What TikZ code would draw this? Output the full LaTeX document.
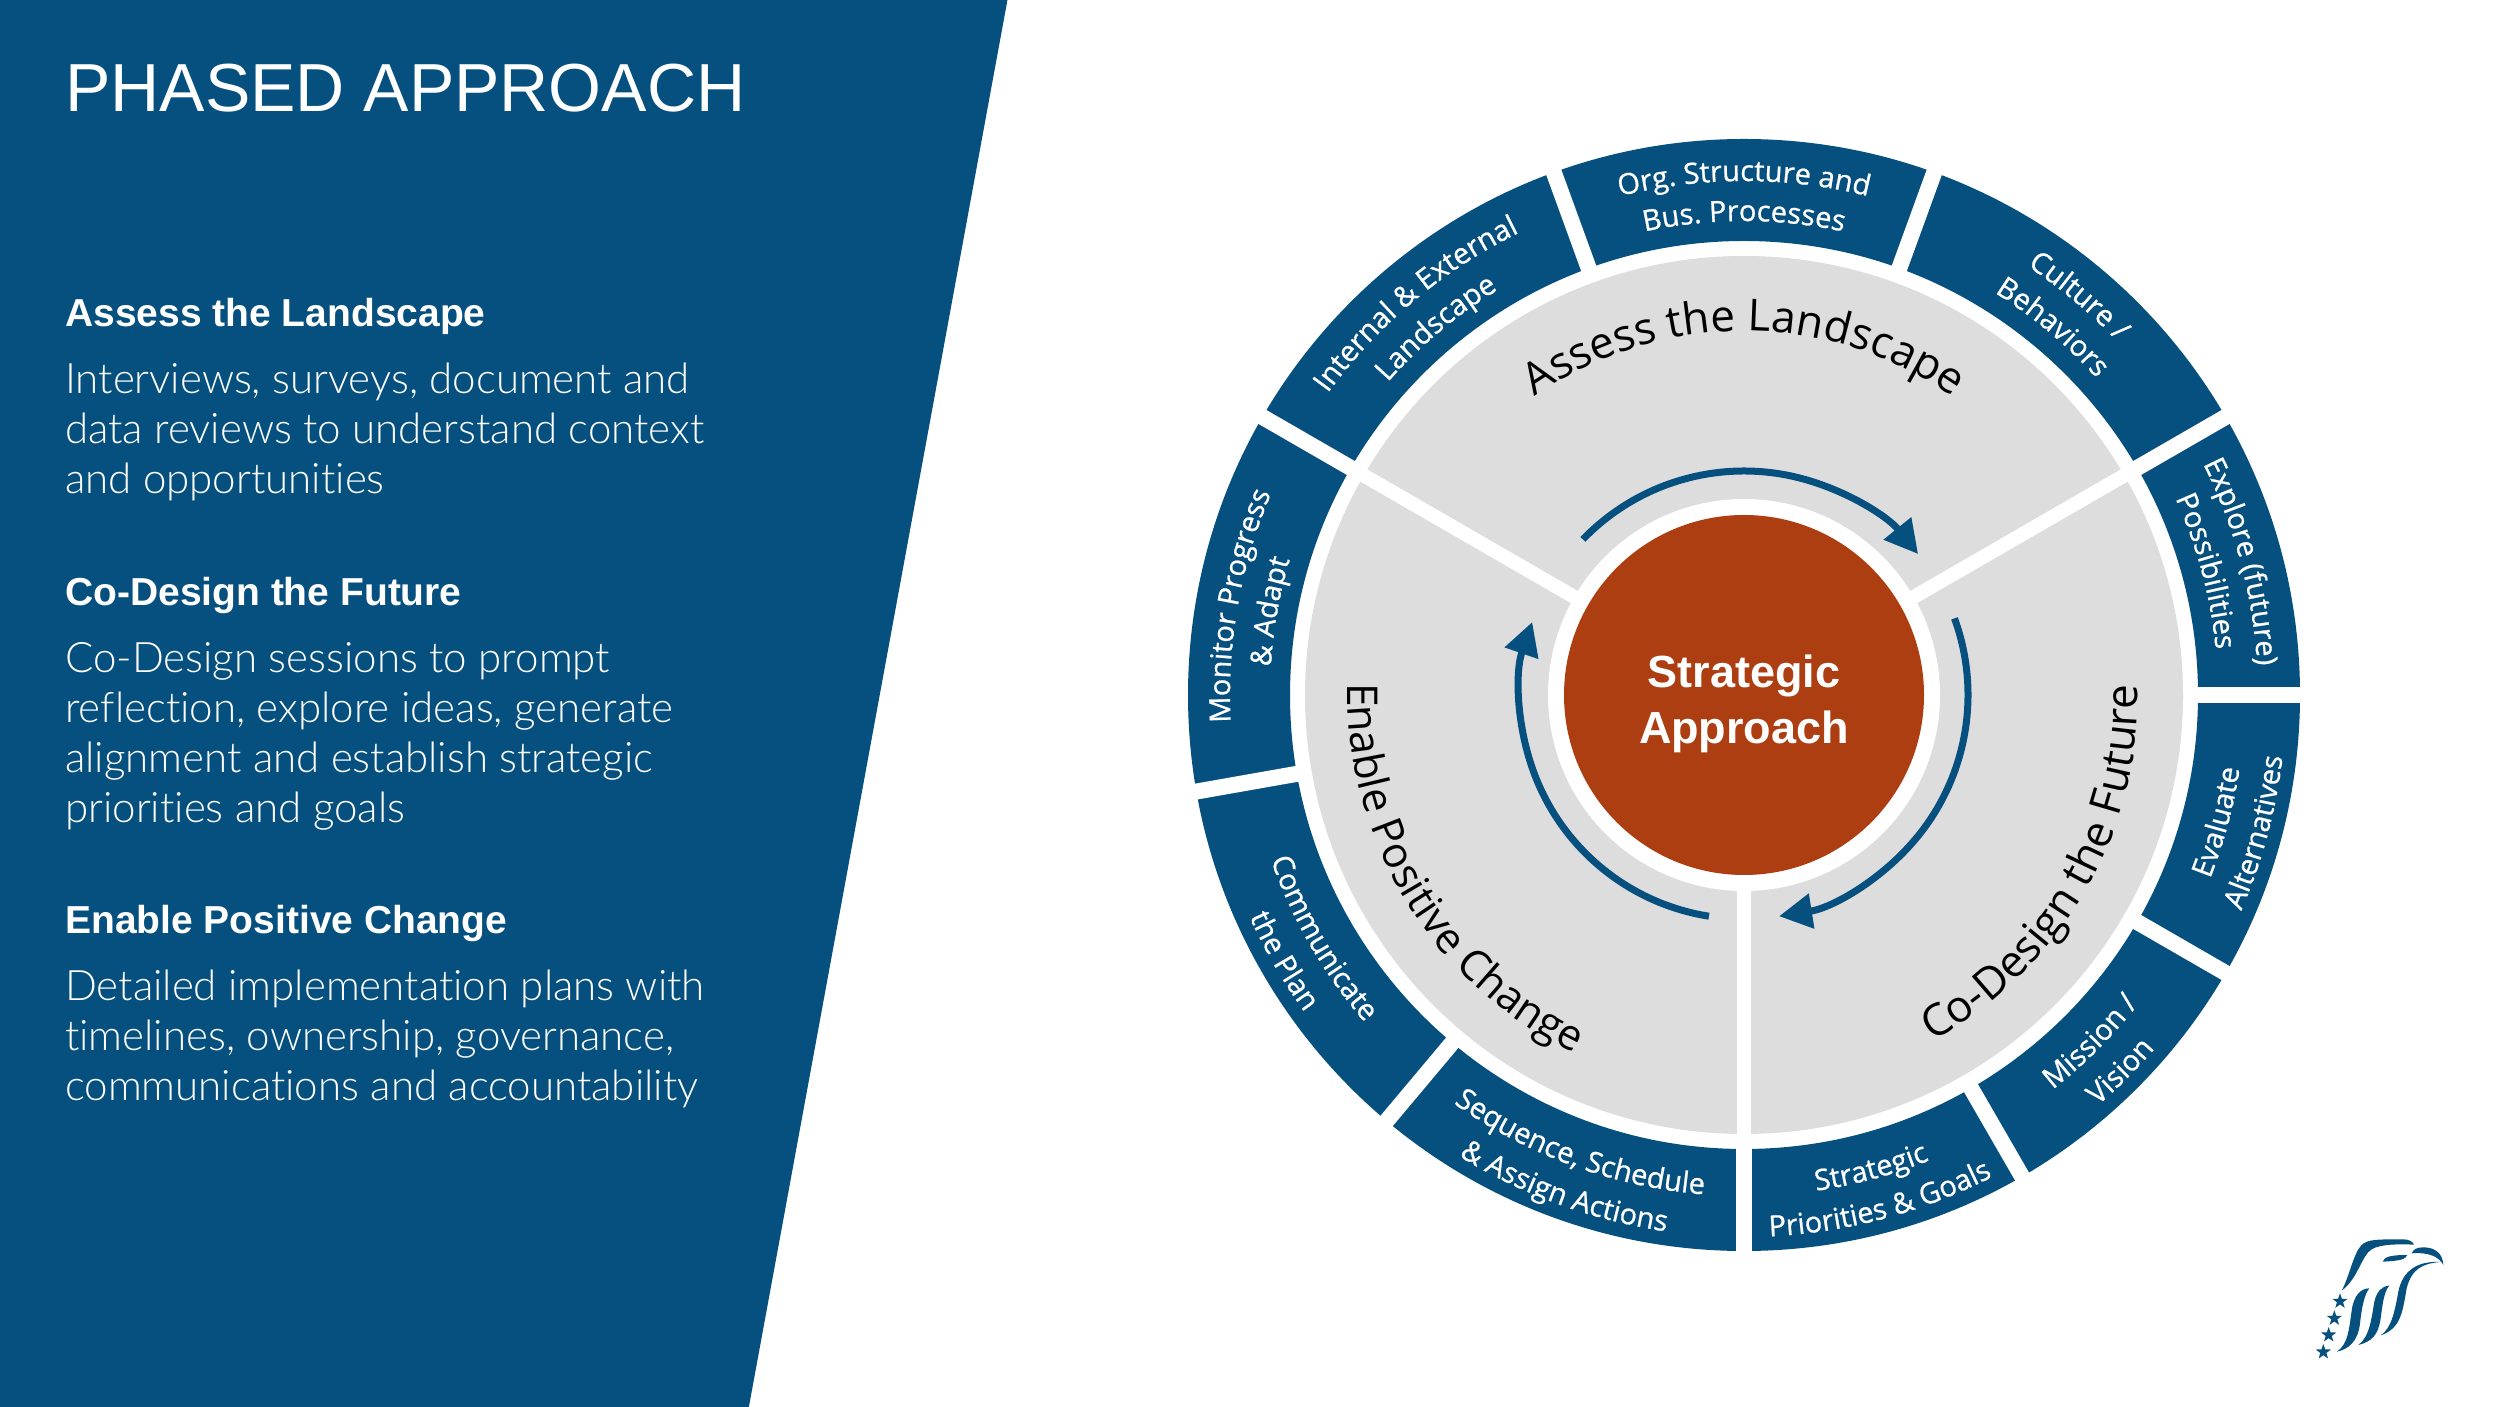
\documentclass[tikz,border=0pt]{standalone}
\usepackage{fontspec}
\usepackage{graphicx}
\usetikzlibrary{arrows.meta,shapes.geometric,decorations.text}
\setmainfont{Liberation Sans}
\newfontfamily\bodyfont[UprightFont=* Light,Ligatures={NoCommon,NoRare,NoContextual}]{Lato}
\newfontfamily\ringfont[FakeBold=0.8]{Open Sans}
\newfontfamily\mainring{Open Sans}
\definecolor{navy}{HTML}{05507F}
\definecolor{rust}{HTML}{AD3E12}
\definecolor{pale}{HTML}{DDDDDD}
\newcommand{\ringlabel}[4]{% radius, from, to, text
  \path[decorate,decoration={text along path,text align=center,text color=white,
    text={|\ringfont\fontsize{29}{33}\selectfont|#4}}]
    (#2:#1) arc[start angle=#2,end angle=#3,radius=#1];}
\newcommand{\phaselabel}[5]{% radius, from, to, size, text
  \path[decorate,decoration={text along path,text align=center,text color=black,
    text={|\mainring\fontsize{#4}{50}\selectfont|#5}}]
    (#2:#1) arc[start angle=#2,end angle=#3,radius=#1];}
\tikzset{
  leftline/.style={anchor=base west,inner sep=0pt,text=white},
  titletext/.style={leftline,font=\fontsize{68}{80}\selectfont},
  headtext/.style={leftline,font=\bfseries\fontsize{39}{48}\selectfont},
  bodytext/.style={leftline,font=\bodyfont\fontsize{42}{50}\selectfont},
  flowarrow/.style={draw=navy,line width=7pt,-{Triangle[length=33pt,width=34pt]}},
  logostar/.style={star,star points=5,star point ratio=2.5,fill=navy,inner sep=0pt,minimum size=16pt},
}
\begin{document}
\begin{tikzpicture}[x=1pt,y=1pt]
\useasboundingbox (0,0) rectangle (2500,1406);
\fill[white] (0,0) rectangle (2500,1406);
\fill[navy] (0,-3) -- (748.5,-3) -- (1008,1409) -- (0,1409) -- cycle;

\node[titletext] (title) at (65,1294) {PHASED APPROACH};
\node[headtext] (h1) at (65,1079) {Assess the Landscape};
\node[bodytext] (b1a) at (65,1012) {Interviews, surveys, document and};
\node[bodytext] (b1b) at (65,962) {data reviews to understand context};
\node[bodytext] (b1c) at (65,912) {and opportunities};
\node[headtext] (h2) at (65,800) {Co-Design the Future};
\node[bodytext] (b2a) at (65,733) {Co-Design sessions to prompt};
\node[bodytext] (b2b) at (65,683) {reflection, explore ideas, generate};
\node[bodytext] (b2c) at (65,633) {alignment and establish strategic};
\node[bodytext] (b2d) at (65,583) {priorities and goals};
\node[headtext] (h3) at (65,472) {Enable Positive Change};
\node[bodytext] (b3a) at (65,405) {Detailed implementation plans with};
\node[bodytext] (b3b) at (65,355) {timelines, ownership, governance,};
\node[bodytext] (b3c) at (65,305) {communications and accountability};

\begin{scope}[shift={(1744,711)}]
  \fill[navy,even odd rule] (0,0) circle[radius=556] (0,0) circle[radius=454];
  \fill[pale] (0,0) circle[radius=439];
  \foreach \a in {70,110,0,-30,-60,190,230,30,150,270}
    \draw[white,line width=16pt] (\a:447) -- (\a:566);
  \foreach \a in {30,150,270}
    \draw[white,line width=14pt] (\a:190) -- (\a:447);
  \fill[white] (0,0) circle[radius=196];
  \node[circle,fill=rust,minimum size=360pt,inner sep=0pt,
        label={[name=corelabel,text=white,align=center,yshift=-9pt,
          font=\bfseries\fontsize{45}{56}\selectfont]center:Strategic\\Approach}] (core) at (0,0) {};

  \coordinate (a1s) at (136:224);
  \coordinate (a2s) at (20:224);
  \coordinate (a3s) at (261:224);
  \draw[flowarrow] (a1s) arc[start angle=136,end angle=39,radius=224];
  \draw[flowarrow] (a2s) arc[start angle=20,end angle=-81,radius=224];
  \draw[flowarrow] (a3s) arc[start angle=261,end angle=161,radius=224];

  \phaselabel{364}{150}{30}{44}{Assess the Landscape}
  \phaselabel{394}{-90}{30}{44}{Co-Design the Future}
  \phaselabel{396}{151.5}{271.5}{42.5}{Enable Positive Change}

  % clockwise band: outer line first
  \ringlabel{514}{125}{55}{Org. Structure and}
  \ringlabel{474}{125}{55}{Bus. Processes}
  \ringlabel{514}{85}{15}{Culture /}
  \ringlabel{474}{85}{15}{Behaviors}
  \ringlabel{514}{50}{-20}{Explore (future)}
  \ringlabel{474}{50}{-20}{Possibilities}
  \ringlabel{514}{205}{135}{Monitor Progress}
  \ringlabel{474}{205}{135}{{\&} Adapt}
  \ringlabel{514}{165}{95}{Internal {\&} External}
  \ringlabel{474}{165}{95}{Landscape}
  % counter-clockwise band: inner line first
  \ringlabel{501}{-50}{20}{Evaluate}
  \ringlabel{542}{-50}{20}{Alternatives}
  \ringlabel{501}{-80}{-10}{Mission /}
  \ringlabel{542}{-80}{-10}{Vision}
  \ringlabel{501}{-110}{-40}{Strategic}
  \ringlabel{542}{-110}{-40}{Priorities {\&} Goals}
  \ringlabel{501}{215}{285}{Sequence, Schedule}
  \ringlabel{542}{215}{285}{{\&} Assign Actions}
  \ringlabel{501}{175}{245}{Communicate}
  \ringlabel{542}{175}{245}{the Plan}
\end{scope}

\begin{scope}[shift={(2290,186)},x=0.3333pt,y=-0.3333pt]
  \fill[navy] (155,212) .. controls (180,165) and (190,100) .. (215,75)
     .. controls (232,58) and (260,58) .. (340,58)
     .. controls (358,58) and (368,65) .. (372,74)
     .. controls (330,72) and (270,72) .. (245,88)
     .. controls (215,105) and (205,175) .. (155,212) -- cycle;
  \fill[navy] (365,100) .. controls (370,88) and (380,82) .. (400,82)
     .. controls (435,82) and (458,100) .. (460,135)
     .. controls (448,112) and (420,96) .. (365,100) -- cycle;
  \fill[navy] (278,125) .. controls (284,112) and (295,105) .. (352,105)
     .. controls (345,118) and (335,122) .. (278,125) -- cycle;
  \fill[navy] (272,346) .. controls (305,325) and (315,270) .. (325,215)
     .. controls (338,150) and (385,122) .. (452,126)
     .. controls (400,130) and (365,145) .. (350,205)
     .. controls (338,270) and (335,325) .. (272,346) -- cycle;
  \fill[navy] (205,375) .. controls (240,350) and (245,290) .. (253,245)
     .. controls (260,215) and (275,198) .. (298,197)
     .. controls (282,215) and (278,250) .. (272,295)
     .. controls (265,345) and (245,365) .. (205,375) -- cycle;
  \fill[navy] (140,395) .. controls (175,375) and (178,320) .. (186,265)
     .. controls (192,230) and (210,205) .. (238,205)
     .. controls (222,225) and (215,265) .. (210,310)
     .. controls (204,365) and (175,388) .. (140,395) -- cycle;
  \node[logostar] (s1) at (150,244) {};
  \node[logostar] (s2) at (133,295) {};
  \node[logostar] (s3) at (116,345) {};
  \node[logostar] (s4) at (100,396) {};
\end{scope}
\end{tikzpicture}
\end{document}
